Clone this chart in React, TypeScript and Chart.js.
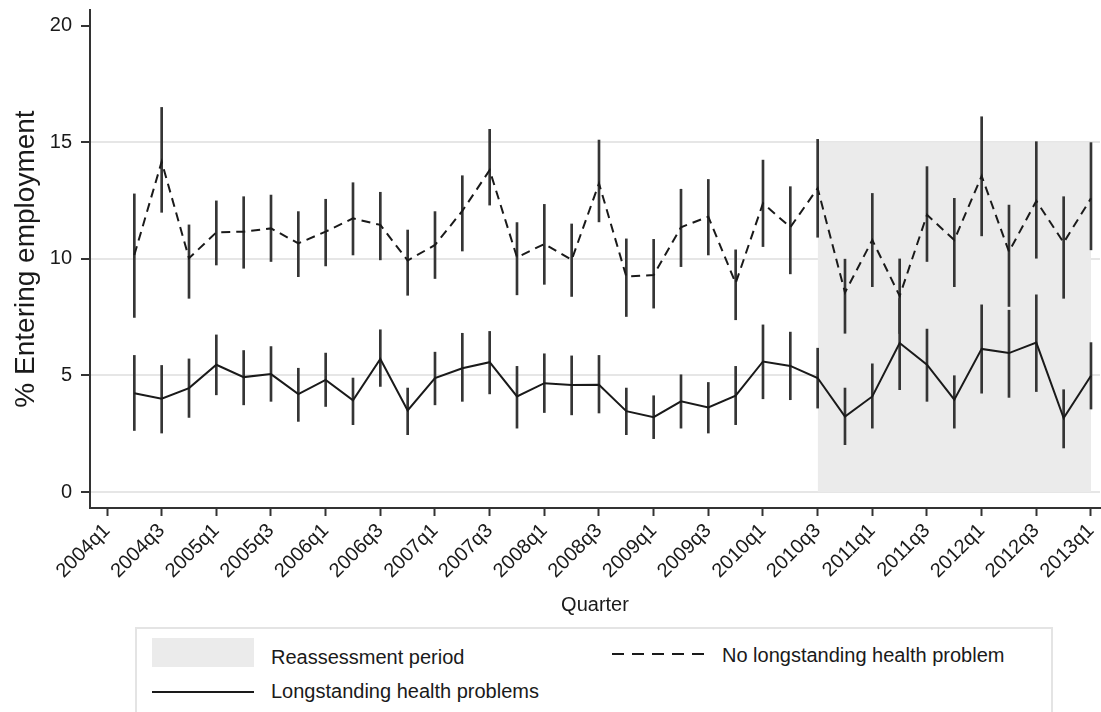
import React, { useEffect, useRef } from "react";
import { Chart, registerables } from "chart.js";

Chart.register(...registerables);

const FONT = "'Liberation Sans', Arial, Helvetica, sans-serif";

// All quarters on the axis (2004q1 .. 2013q1)
const allQuarters = [
  "2004q1", "2004q2", "2004q3", "2004q4",
  "2005q1", "2005q2", "2005q3", "2005q4",
  "2006q1", "2006q2", "2006q3", "2006q4",
  "2007q1", "2007q2", "2007q3", "2007q4",
  "2008q1", "2008q2", "2008q3", "2008q4",
  "2009q1", "2009q2", "2009q3", "2009q4",
  "2010q1", "2010q2", "2010q3", "2010q4",
  "2011q1", "2011q2", "2011q3", "2011q4",
  "2012q1", "2012q2", "2012q3", "2012q4",
  "2013q1",
];

// Observed quarters (2004q2 .. 2013q1)
const quarters = allQuarters.slice(1);

const tickLabels = [
  "2004q1", "2004q3", "2005q1", "2005q3", "2006q1", "2006q3", "2007q1",
  "2007q3", "2008q1", "2008q3", "2009q1", "2009q3", "2010q1", "2010q3",
  "2011q1", "2011q3", "2012q1", "2012q3", "2013q1",
];

const yTicks = [0, 5, 10, 15, 20];

// No longstanding health problem (dashed)
const noLhp = [10.17, 14.17, 10.03, 11.14, 11.17, 11.31, 10.67, 11.17, 11.74, 11.46, 9.93, 10.6, 12.06, 13.81, 10.07, 10.64, 9.96, 13.24, 9.24, 9.31, 11.36, 11.81, 8.96, 12.39, 11.36, 13.03, 8.56, 10.81, 8.41, 11.89, 10.81, 13.56, 10.31, 12.49, 10.7, 12.6];
const noLhpLo = [7.49, 12.0, 8.31, 9.74, 9.6, 9.89, 9.24, 9.7, 10.17, 9.96, 8.44, 9.16, 10.34, 12.31, 8.46, 8.91, 8.39, 11.59, 7.53, 7.89, 9.67, 10.17, 7.39, 10.53, 9.36, 10.93, 6.81, 8.81, 6.8, 9.89, 8.81, 10.99, 7.96, 10.03, 8.31, 10.39];
const noLhpHi = [12.79, 16.5, 11.46, 12.49, 12.67, 12.74, 12.03, 12.56, 13.27, 12.86, 11.24, 12.03, 13.57, 15.56, 11.56, 12.34, 11.5, 15.1, 10.86, 10.84, 12.99, 13.41, 10.39, 14.24, 13.1, 15.13, 9.99, 12.81, 10.0, 13.96, 12.6, 16.1, 12.31, 15.03, 12.67, 14.99];

// Longstanding health problems (solid)
const lhp = [4.24, 4.0, 4.46, 5.46, 4.93, 5.06, 4.2, 4.81, 3.93, 5.71, 3.5, 4.89, 5.31, 5.57, 4.1, 4.67, 4.59, 4.6, 3.47, 3.21, 3.89, 3.63, 4.13, 5.6, 5.41, 4.89, 3.24, 4.1, 6.39, 5.46, 3.96, 6.14, 5.96, 6.41, 3.17, 4.99];
const lhpLo = [2.64, 2.53, 3.2, 4.17, 3.74, 3.89, 3.03, 3.67, 2.89, 4.53, 2.46, 3.74, 3.89, 4.21, 2.74, 3.41, 3.31, 3.39, 2.46, 2.29, 2.74, 2.53, 2.89, 4.0, 3.96, 3.6, 2.03, 2.74, 4.39, 3.89, 2.74, 4.24, 4.06, 4.31, 1.89, 3.56];
const lhpHi = [5.86, 5.43, 5.71, 6.74, 6.07, 6.24, 5.31, 5.96, 4.89, 6.96, 4.46, 6.0, 6.81, 6.89, 5.39, 5.93, 5.84, 5.86, 4.46, 4.13, 5.03, 4.7, 5.39, 7.17, 6.86, 6.17, 4.46, 5.5, 8.3, 6.99, 4.99, 8.03, 7.8, 8.46, 4.39, 6.41];

// Reassessment period shading
const reassessStart = "2010q3";
const reassessEnd = "2013q1";
const reassessTop = 15;

const LINE = "#1a1a1a";
const CI = "#353535";
const SHADE = "#ebebeb";
const TEXT = "#1a1a1a";

const xOf = (q: string) => allQuarters.indexOf(q);
const pts = (vals: number[]) => quarters.map((q, i) => ({ x: xOf(q), y: vals[i] }));
const bars = (lo: number[], hi: number[]) =>
  quarters.map((q, i) => ({ x: xOf(q), y: [lo[i], hi[i]] }));

export default function App() {
  const ref = useRef<HTMLCanvasElement>(null);

  useEffect(() => {
    Chart.defaults.font.family = FONT;
    Chart.defaults.color = TEXT;
    const chart = new Chart(ref.current as HTMLCanvasElement, {
      type: "line",
      data: {
        datasets: [
          {
            type: "line",
            label: "No longstanding health problem",
            data: pts(noLhp),
            borderColor: LINE,
            borderWidth: 2,
            borderDash: [9, 6],
            pointRadius: 0,
            fill: false,
            order: 1,
          },
          {
            type: "line",
            label: "Longstanding health problems",
            data: pts(lhp),
            borderColor: LINE,
            borderWidth: 2,
            pointRadius: 0,
            fill: false,
            order: 1,
          },
          {
            type: "bar",
            label: "CI no LHP",
            data: bars(noLhpLo, noLhpHi) as any,
            backgroundColor: CI,
            barThickness: 2,
            grouped: false,
            order: 2,
          } as any,
          {
            type: "bar",
            label: "CI LHP",
            data: bars(lhpLo, lhpHi) as any,
            backgroundColor: CI,
            barThickness: 2,
            grouped: false,
            order: 2,
          } as any,
          {
            type: "line",
            label: "Reassessment period",
            data: [
              { x: xOf(reassessStart), y: reassessTop },
              { x: xOf(reassessEnd), y: reassessTop },
            ],
            borderColor: "rgba(0,0,0,0)",
            borderWidth: 0,
            backgroundColor: SHADE,
            pointRadius: 0,
            fill: "origin",
            order: 3,
          },
        ],
      },
      options: {
        responsive: false,
        animation: false,
        events: [],
        layout: { padding: { top: 10, right: 1, bottom: 0, left: 0 } },
        plugins: {
          legend: { display: false },
          tooltip: { enabled: false },
        },
        scales: {
          x: {
            type: "linear",
            offset: false,
            min: -0.622,
            max: 36.33,
            afterBuildTicks: (scale: any) => {
              scale.ticks = tickLabels.map((l) => ({ value: xOf(l) }));
            },
            afterFit: (scale: any) => {
              scale.height = 112;
              scale.paddingLeft = 0;
              scale.paddingRight = 0;
            },
            ticks: {
              autoSkip: false,
              maxRotation: 45,
              minRotation: 45,
              padding: 3,
              color: TEXT,
              font: { size: 20, family: FONT },
              callback: (v: any) => allQuarters[Number(v)] ?? "",
            },
            grid: {
              offset: false,
              drawOnChartArea: false,
              drawTicks: true,
              tickLength: 8,
              tickColor: "#333",
              tickWidth: 2,
            },
            border: { color: "#333", width: 2 },
            title: {
              display: true,
              text: "Quarter",
              color: TEXT,
              font: { size: 20, family: FONT },
              padding: { top: 4, bottom: 3 },
            },
          },
          y: {
            type: "linear",
            min: -0.686,
            max: 20.68,
            afterBuildTicks: (scale: any) => {
              scale.ticks = yTicks.map((v) => ({ value: v }));
            },
            afterFit: (scale: any) => {
              scale.width = 90;
              scale.paddingTop = 0;
              scale.paddingBottom = 0;
            },
            ticks: {
              padding: 9,
              color: TEXT,
              font: { size: 20, family: FONT },
              callback: (v: any) => String(v),
            },
            grid: {
              color: (ctx: any) =>
                ctx.tick && ctx.tick.value === 20 ? "rgba(0,0,0,0)" : "#e6e6e6",
              lineWidth: 2,
              drawTicks: true,
              tickLength: 9,
              tickColor: "#333",
              tickWidth: 2,
            },
            border: { color: "#333", width: 2 },
            title: {
              display: true,
              text: "% Entering employment",
              color: TEXT,
              font: { size: 28, family: FONT },
              padding: { top: 9, bottom: 0 },
            },
          },
        },
      },
    });
    return () => chart.destroy();
  }, []);

  const textStyle: React.CSSProperties = {
    position: "absolute",
    fontFamily: FONT,
    fontSize: 20,
    lineHeight: "24px",
    color: TEXT,
    whiteSpace: "nowrap",
  };

  return (
    <div
      style={{
        position: "fixed",
        left: 0,
        top: 0,
        width: 1101,
        height: 712,
        overflow: "hidden",
        background: "#fff",
      }}
    >
      <canvas
        ref={ref}
        width={1101}
        height={620}
        style={{ display: "block", width: 1101, height: 620 }}
      />
      <div
        style={{
          position: "absolute",
          left: 135,
          top: 627,
          width: 918,
          height: 120,
          border: "2px solid #e4e4e4",
          boxSizing: "border-box",
        }}
      />
      <div
        style={{
          position: "absolute",
          left: 152,
          top: 638,
          width: 102,
          height: 29,
          background: SHADE,
        }}
      />
      <div style={{ ...textStyle, left: 271, top: 645 }}>Reassessment period</div>
      <svg
        style={{ position: "absolute", left: 610, top: 648 }}
        width={100}
        height={12}
      >
        <line x1={2} y1={6} x2={98} y2={6} stroke={LINE} strokeWidth={2} strokeDasharray="12 8" />
      </svg>
      <div style={{ ...textStyle, left: 722, top: 643 }}>No longstanding health problem</div>
      <div
        style={{
          position: "absolute",
          left: 152,
          top: 691,
          width: 102,
          height: 2,
          background: LINE,
        }}
      />
      <div style={{ ...textStyle, left: 271, top: 679 }}>Longstanding health problems</div>
    </div>
  );
}
